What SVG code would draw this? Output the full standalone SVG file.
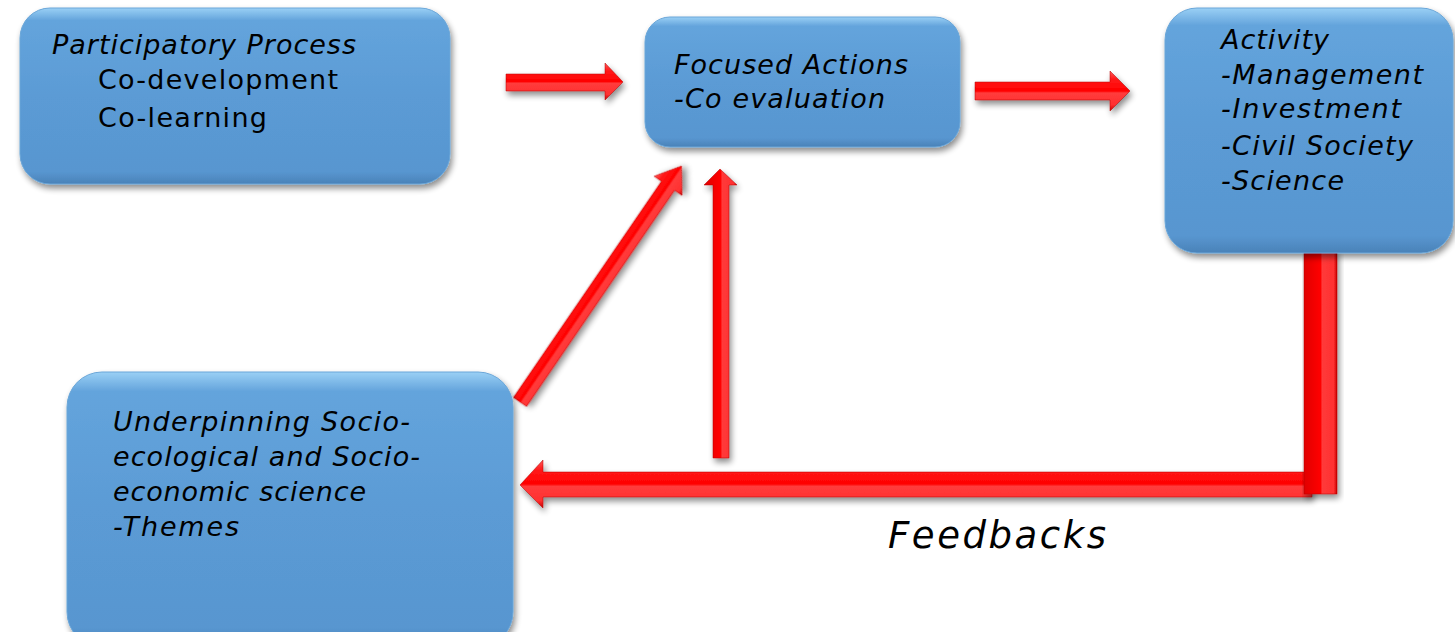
<svg xmlns="http://www.w3.org/2000/svg" width="1455" height="632" viewBox="0 0 1455 632">
<defs>
<linearGradient id="boxg" x1="0" y1="0" x2="0" y2="1">
<stop offset="0" stop-color="#9ad0f5"/>
<stop offset="0.07" stop-color="#64a4dc"/>
<stop offset="0.5" stop-color="#5b9bd5"/>
<stop offset="0.93" stop-color="#5896d0"/>
<stop offset="1" stop-color="#4a82b8"/>
</linearGradient>
<linearGradient id="arrg" x1="0" y1="0" x2="0" y2="1">
<stop offset="0" stop-color="#ff5a5a"/>
<stop offset="0.2" stop-color="#ff1a1a"/>
<stop offset="0.5" stop-color="#ff0000"/>
<stop offset="0.55" stop-color="#ff3c3c"/>
<stop offset="0.85" stop-color="#ff3030"/>
<stop offset="1" stop-color="#c40000"/>
</linearGradient>
<linearGradient id="arrv" x1="0" y1="0" x2="1" y2="0">
<stop offset="0" stop-color="#e00000"/>
<stop offset="0.5" stop-color="#ff0000"/>
<stop offset="0.55" stop-color="#ff3a3a"/>
<stop offset="0.9" stop-color="#ff3030"/>
<stop offset="1" stop-color="#c80000"/>
</linearGradient>
<filter id="sh" x="-10%" y="-10%" width="130%" height="140%">
<feGaussianBlur in="SourceAlpha" stdDeviation="3"/>
<feOffset dx="2" dy="4" result="b"/>
<feComponentTransfer><feFuncA type="linear" slope="0.45"/></feComponentTransfer>
<feMerge><feMergeNode/><feMergeNode in="SourceGraphic"/></feMerge>
</filter>
</defs>
<style>
.box{fill:url(#boxg);stroke:#6aa6d8;stroke-width:1;filter:url(#sh)}
.t{font-family:"DejaVu Sans","Verdana",sans-serif;font-size:27px;fill:#000}
.i{font-style:italic}
.arr{fill:url(#arrg);stroke:#b00000;stroke-width:0.5;filter:url(#sh)}
.arrv{fill:url(#arrv);stroke:#b00000;stroke-width:0.5;filter:url(#sh)}
</style>
<rect width="1455" height="632" fill="#fff"/>

<g id="connectors">
<polygon class="arr" points="506,74 605,74 605,63 623,82 605,100 605,91 506,91"/>
<polygon class="arr" points="975,82 1110,82 1110,71 1130,91 1110,111 1110,100 975,100"/>
<g transform="translate(520,402) rotate(-55.6)">
<polygon class="arr" points="0,-8 262,-8 262,-17 286,0 262,17 262,8 0,8"/>
</g>
<polygon class="arrv" points="713,458 713,185 704,185 720,169 737,185 729,185 729,458"/>
<polygon class="arr" points="1312,472 543,472 543,460 520,485 543,508 543,497 1312,497"/>
<rect class="arrv" x="1304" y="250" width="33" height="244"/>
</g>

<g id="participatory">
<rect class="box" x="20" y="8" width="430" height="176" rx="30" ry="30"/>
<text class="t i" x="52" y="54" textLength="304" lengthAdjust="spacing">Participatory Process</text>
<text class="t" x="98" y="89" textLength="240" lengthAdjust="spacing">Co-development</text>
<text class="t" x="98" y="127" textLength="169" lengthAdjust="spacing">Co-learning</text>
</g>

<g id="focused">
<rect class="box" x="645" y="17" width="315" height="130" rx="25" ry="25"/>
<text class="t i" x="674" y="74" textLength="234" lengthAdjust="spacing">Focused Actions</text>
<text class="t i" x="674" y="108" textLength="211" lengthAdjust="spacing">-Co evaluation</text>
</g>

<g id="activity">
<rect class="box" x="1165" y="8" width="288" height="245" rx="32" ry="32"/>
<text class="t i" x="1221" y="49" textLength="108" lengthAdjust="spacing">Activity</text>
<text class="t i" x="1221" y="84" textLength="202" lengthAdjust="spacing">-Management</text>
<text class="t i" x="1221" y="118" textLength="180" lengthAdjust="spacing">-Investment</text>
<text class="t i" x="1221" y="155" textLength="192" lengthAdjust="spacing">-Civil Society</text>
<text class="t i" x="1221" y="190" textLength="123" lengthAdjust="spacing">-Science</text>
</g>

<g id="underpinning">
<rect class="box" x="67" y="372" width="446" height="275" rx="35" ry="35"/>
<text class="t i" x="113" y="431" textLength="297" lengthAdjust="spacing">Underpinning Socio-</text>
<text class="t i" x="113" y="466" textLength="307" lengthAdjust="spacing">ecological and Socio-</text>
<text class="t i" x="113" y="501" textLength="253" lengthAdjust="spacing">economic science</text>
<text class="t i" x="113" y="536" textLength="126" lengthAdjust="spacing">-Themes</text>
</g>

<g id="feedbacks-label">
<text class="t i" x="888" y="548" style="font-size:37px" textLength="218" lengthAdjust="spacing">Feedbacks</text>
</g>
</svg>
